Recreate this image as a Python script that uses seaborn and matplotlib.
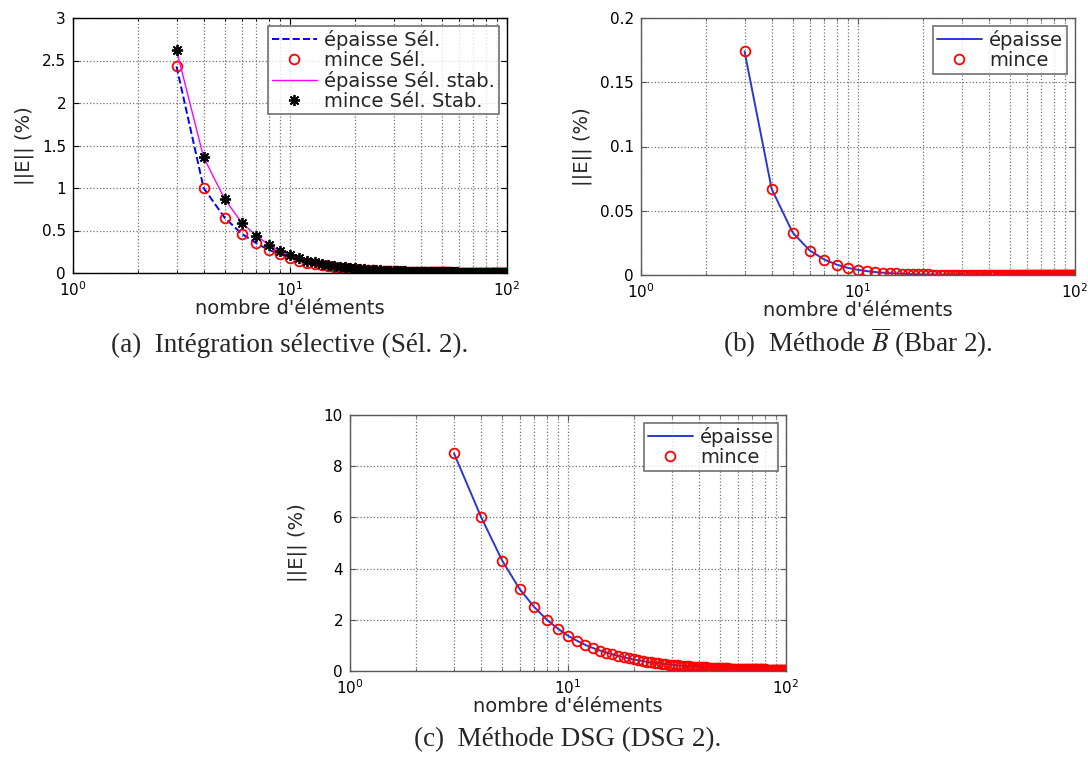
import numpy as np
import matplotlib
matplotlib.use("Agg")
import matplotlib.pyplot as plt
import seaborn as sns
from matplotlib.ticker import FuncFormatter
from matplotlib.lines import Line2D

# ---------------------------------------------------------------------
# Data: error norm vs number of elements (3..100)
# ---------------------------------------------------------------------
n_elements = np.arange(3, 101)

epaisse_sel = [
    2.43, 1.00, 0.65, 0.46, 0.35, 0.27, 0.22, 0.18,
    0.145, 0.122, 0.104, 0.089, 0.078, 0.068, 0.061, 0.054, 0.048, 0.044,
    0.040, 0.036, 0.033, 0.030, 0.028, 0.026, 0.024, 0.022, 0.021, 0.019,
    0.018, 0.017, 0.016, 0.015, 0.014, 0.0135, 0.0128, 0.012, 0.0115, 0.011,
    0.0104, 0.0099, 0.0095, 0.009, 0.0086, 0.0083, 0.0079, 0.0076, 0.0073, 0.007,
    0.0067, 0.0065, 0.0062, 0.006, 0.0058, 0.0056, 0.0054, 0.0052, 0.005, 0.0049,
    0.0047, 0.0046, 0.0044, 0.0043, 0.0041, 0.004, 0.0039, 0.0038, 0.0037, 0.0036,
    0.0035, 0.0034, 0.0033, 0.0032, 0.0031, 0.003, 0.003, 0.0029, 0.0028, 0.0027,
    0.0027, 0.0026, 0.0025, 0.0025, 0.0024, 0.0024, 0.0023, 0.0023, 0.0022, 0.0022,
    0.0021, 0.0021, 0.002, 0.002, 0.0019, 0.0019, 0.0019, 0.0018, 0.0018, 0.0018,
]
mince_sel = list(epaisse_sel)

epaisse_sel_stab = [
    2.62, 1.36, 0.87, 0.59, 0.44, 0.33, 0.26, 0.21,
    0.174, 0.146, 0.124, 0.107, 0.093, 0.082, 0.073, 0.065, 0.058, 0.053,
    0.048, 0.043, 0.040, 0.036, 0.034, 0.031, 0.029, 0.027, 0.025, 0.023,
    0.022, 0.021, 0.019, 0.018, 0.017, 0.016, 0.015, 0.0146, 0.0138, 0.0131,
    0.0125, 0.0119, 0.0114, 0.0108, 0.0104, 0.0099, 0.0095, 0.0091, 0.0087, 0.0084,
    0.0081, 0.0078, 0.0075, 0.0072, 0.0069, 0.0067, 0.0065, 0.0062, 0.006, 0.0058,
    0.0056, 0.0055, 0.0053, 0.0051, 0.005, 0.0048, 0.0047, 0.0045, 0.0044, 0.0043,
    0.0042, 0.0041, 0.0039, 0.0038, 0.0037, 0.0036, 0.0035, 0.0035, 0.0034, 0.0033,
    0.0032, 0.0031, 0.003, 0.003, 0.0029, 0.0028, 0.0028, 0.0027, 0.0026, 0.0026,
    0.0025, 0.0025, 0.0024, 0.0023, 0.0023, 0.0023, 0.0022, 0.0022, 0.0021, 0.0021,
]
mince_sel_stab = list(epaisse_sel_stab)

bbar = [
    0.174, 0.067, 0.033, 0.019, 0.012, 0.008, 0.0055, 0.004,
    0.003, 0.0023, 0.0018, 0.0015, 0.0012, 0.001, 0.0008, 0.0007, 0.0006, 0.0005,
    0.00043, 0.00038, 0.00033, 0.00029, 0.00026, 0.00023, 0.0002, 0.00018, 0.00016, 0.00015,
    0.00013, 0.00012, 0.00011, 0.0001, 0.00009, 0.00009, 0.00008, 0.00007, 0.00007, 0.00006,
    0.00006, 0.00005, 0.00005, 0.00005, 0.00004, 0.00004, 0.00004, 0.00004, 0.00003, 0.00003,
    0.00003, 0.00003, 0.00003, 0.00003, 0.00002, 0.00002, 0.00002, 0.00002, 0.00002, 0.00002,
    0.00002, 0.00002, 0.00002, 0.00002, 0.00001, 0.00001, 0.00001, 0.00001, 0.00001, 0.00001,
    0.00001, 0.00001, 0.00001, 0.00001, 0.00001, 0.00001, 0.00001, 0.00001, 0.00001, 0.00001,
    0.00001, 0.00001, 0.00001, 0.00001, 0.00001, 0.00001, 0.00001, 0.00001, 0.00001, 0.00001,
    0.00001, 0.00001, 0.00001, 0.00001, 0.00001, 0.00001, 0.00001, 0.00001, 0.00001, 0.00001,
]

dsg = [
    8.5, 6.0, 4.3, 3.2, 2.5, 2.0, 1.65, 1.38,
    1.18, 1.02, 0.90, 0.80, 0.72, 0.65, 0.59, 0.54, 0.49, 0.45,
    0.42, 0.39, 0.36, 0.34, 0.32, 0.30, 0.28, 0.265, 0.25, 0.24,
    0.23, 0.22, 0.21, 0.20, 0.19, 0.18, 0.175, 0.17, 0.16, 0.155,
    0.15, 0.145, 0.14, 0.135, 0.13, 0.125, 0.12, 0.118, 0.115, 0.112,
    0.108, 0.105, 0.102, 0.1, 0.097, 0.095, 0.092, 0.09, 0.088, 0.086,
    0.084, 0.082, 0.08, 0.078, 0.077, 0.075, 0.074, 0.072, 0.071, 0.07,
    0.068, 0.067, 0.066, 0.065, 0.064, 0.063, 0.062, 0.061, 0.06, 0.059,
    0.058, 0.057, 0.056, 0.056, 0.055, 0.054, 0.053, 0.053, 0.052, 0.051,
    0.051, 0.05, 0.049, 0.049, 0.048, 0.048, 0.047, 0.047, 0.046, 0.046,
]

captions = [
    "(a)  Intégration sélective (Sél. 2).",
    r"(b)  Méthode $\overline{B}$ (Bbar 2).",
    "(c)  Méthode DSG (DSG 2).",
]

# ---------------------------------------------------------------------
# Style
# ---------------------------------------------------------------------
sns.set_style("ticks")
plt.rcParams['font.family'] = ['DejaVu Sans']
plt.rcParams['mathtext.fontset'] = 'dejavusans'

fig = plt.figure(figsize=(10.88, 7.58), dpi=100)
W, H = 1088.0, 758.0


def px_axes(left, top, right, bottom):
    return fig.add_axes([left / W, 1 - bottom / H, (right - left) / W, (bottom - top) / H])


def style_axes(ax, ymax, ystep, ylabelpad, spine_col):
    ax.set_xscale('log')
    ax.set_xlim(1, 100)
    ax.set_ylim(0, ymax)
    ax.set_yticks(np.arange(0, ymax + ystep / 2, ystep))
    ax.yaxis.set_major_formatter(FuncFormatter(lambda v, p: f"{v:g}"))
    ax.grid(True, which='major', ls=':', color='0.45', lw=0.9)
    ax.grid(True, which='minor', axis='x', ls=':', color='0.45', lw=0.9)
    ax.tick_params(which='both', direction='in', top=True, right=True,
                   labelsize=11, colors=spine_col, labelcolor='black', pad=5)
    ax.tick_params(which='major', length=4)
    ax.tick_params(which='minor', length=2)
    for s in ax.spines.values():
        s.set_color(spine_col)
        s.set_linewidth(1.0)
    ax.set_xlabel("nombre d'éléments", fontsize=14, labelpad=0)
    ax.set_ylabel("||E|| (%)", fontsize=14, labelpad=ylabelpad)


def add_legend(ax, handles, labels):
    leg = ax.legend(handles, labels, loc='upper right', fontsize=14,
                    frameon=True, fancybox=False, borderaxespad=0.4,
                    handlelength=2.3, handletextpad=0.4, labelspacing=0.05,
                    borderpad=0.2)
    leg.get_frame().set_edgecolor('0.3')
    leg.get_frame().set_linewidth(1.2)
    return leg


# ---------------------------------------------------------------------
# (a) Selective integration
# ---------------------------------------------------------------------
ax_a = px_axes(73, 18, 507, 273)
sns.lineplot(x=n_elements, y=epaisse_sel, ax=ax_a, color='blue', linestyle='--', lw=1.4)
sns.lineplot(x=n_elements, y=mince_sel, ax=ax_a, linestyle='', marker='o', markersize=7,
             markerfacecolor='none', markeredgecolor='red', markeredgewidth=1.3)
sns.lineplot(x=n_elements, y=epaisse_sel_stab, ax=ax_a, color='magenta', lw=1.0)
sns.lineplot(x=n_elements, y=mince_sel_stab, ax=ax_a, linestyle='', marker=(8, 2, 0),
             markersize=8, markeredgecolor='black', markeredgewidth=1.3)
style_axes(ax_a, 3, 0.5, 6, 'black')
add_legend(ax_a,
           [Line2D([], [], color='blue', ls='--', lw=1.4),
            Line2D([], [], ls='', marker='o', ms=7, mfc='none', mec='red', mew=1.3),
            Line2D([], [], color='magenta', lw=1.0),
            Line2D([], [], ls='', marker=(8, 2, 0), ms=8, mec='black', mew=1.3)],
           ["épaisse Sél.", "mince Sél.", "épaisse Sél. stab.", "mince Sél. Stab."])

# ---------------------------------------------------------------------
# (b) B-bar method
# ---------------------------------------------------------------------
ax_b = px_axes(641, 18, 1075, 275)
sns.lineplot(x=n_elements, y=bbar, ax=ax_b, color='#2a38d0', lw=1.4)
sns.lineplot(x=n_elements, y=bbar, ax=ax_b, linestyle='', marker='o', markersize=7,
             markerfacecolor='none', markeredgecolor='red', markeredgewidth=1.3)
style_axes(ax_b, 0.2, 0.05, 6, '0.35')

# ---------------------------------------------------------------------
# (c) DSG method
# ---------------------------------------------------------------------
ax_c = px_axes(350, 415, 786, 671)
sns.lineplot(x=n_elements, y=dsg, ax=ax_c, color='#2a38d0', lw=1.4)
sns.lineplot(x=n_elements, y=dsg, ax=ax_c, linestyle='', marker='o', markersize=7,
             markerfacecolor='none', markeredgecolor='red', markeredgewidth=1.3)
style_axes(ax_c, 10, 2, 12, '0.35')

for ax in (ax_b, ax_c):
    add_legend(ax,
               [Line2D([], [], color='#2a38d0', lw=1.4),
                Line2D([], [], ls='', marker='o', ms=7, mfc='none', mec='red', mew=1.3)],
               ["épaisse", "mince"])

# captions
for ax, cap in zip((ax_a, ax_b, ax_c), captions):
    pos = ax.get_position()
    ycap = 352 if ax is not ax_c else 746
    fig.text(pos.x0 + pos.width / 2, 1 - ycap / H, cap, ha='center', va='baseline',
             fontsize=19.5, family='Liberation Serif', math_fontfamily='stix')

fig.savefig("out.png", dpi=100)
